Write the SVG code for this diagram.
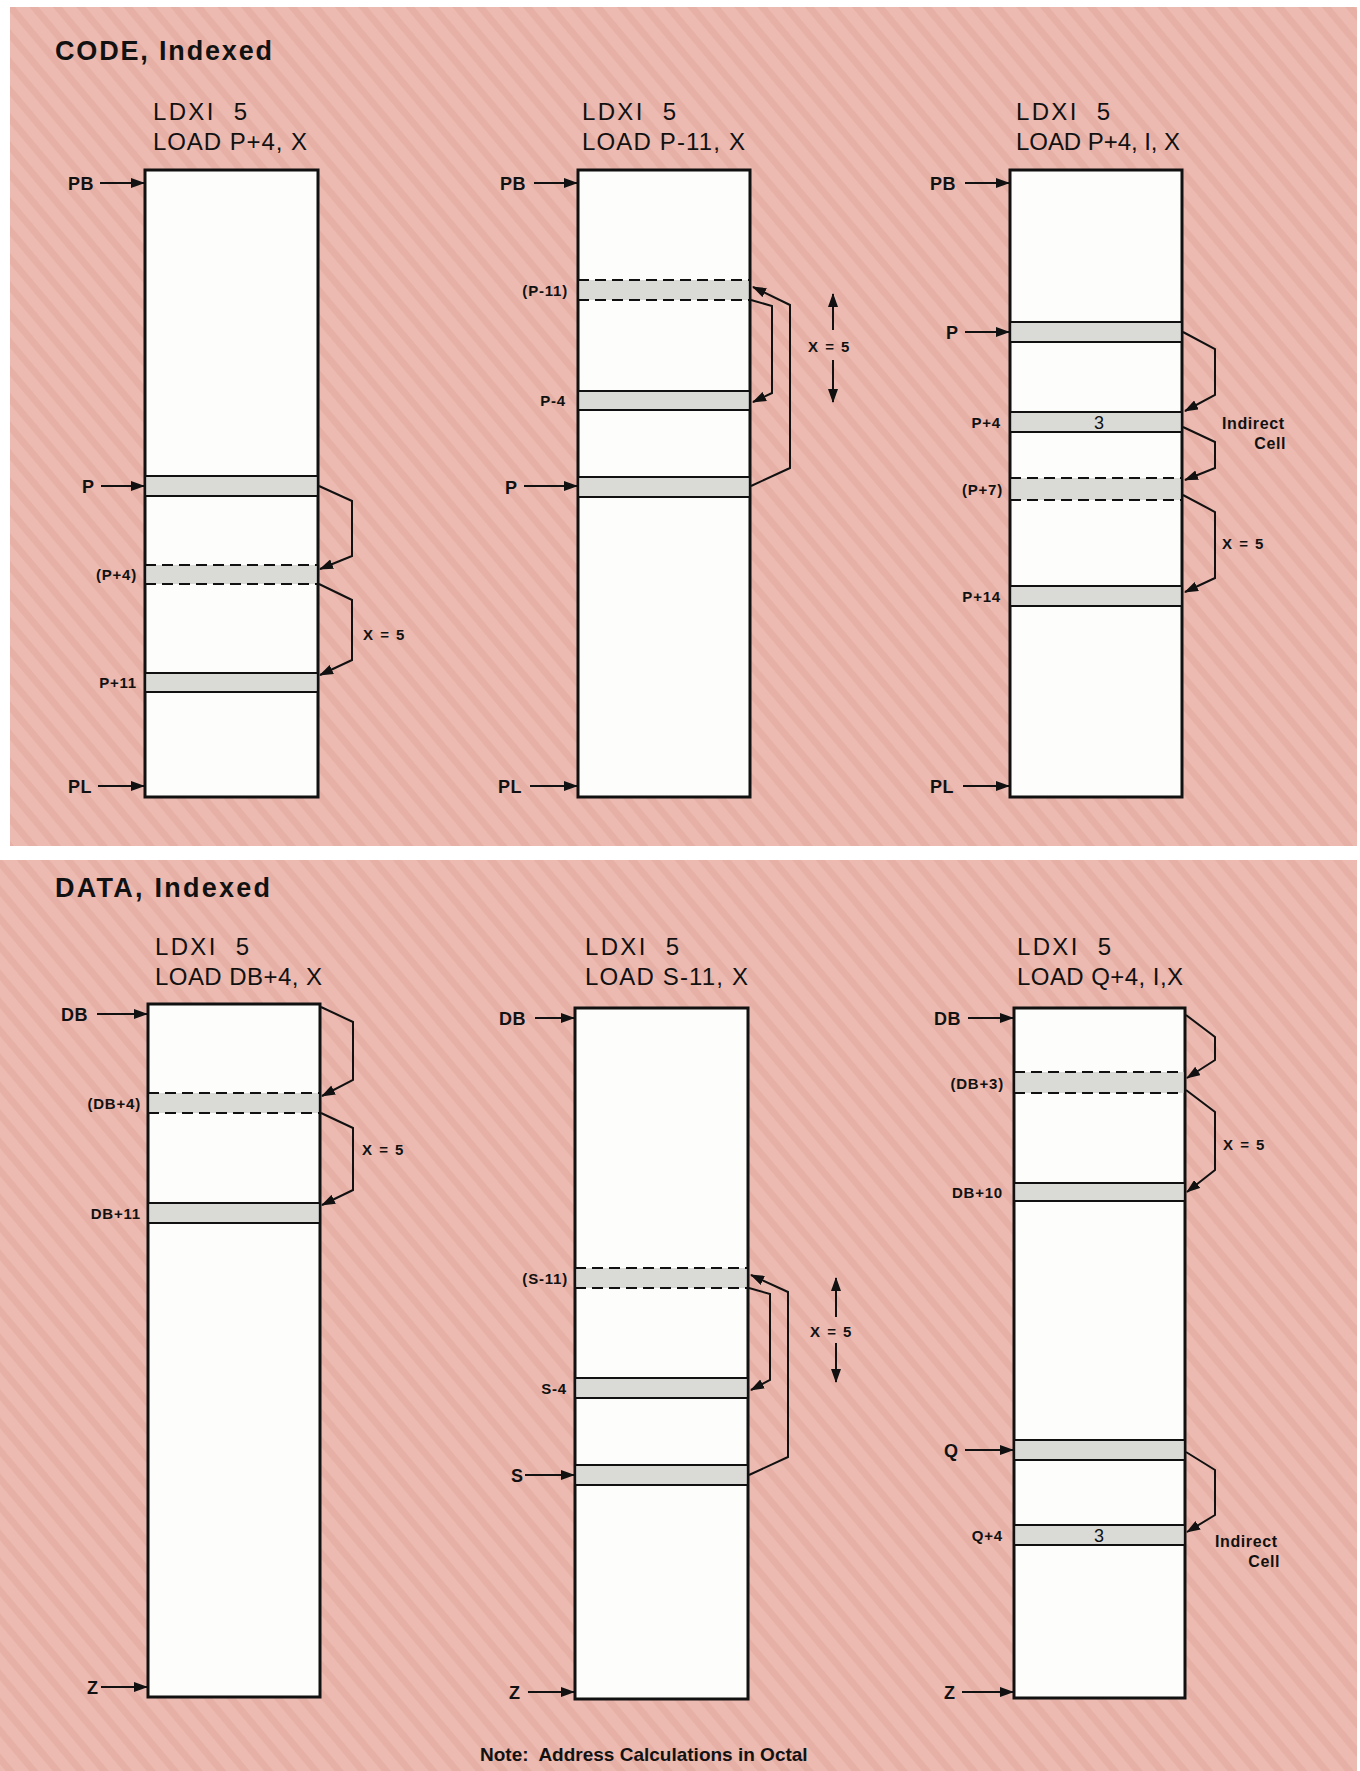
<svg xmlns="http://www.w3.org/2000/svg" width="1360" height="1771" viewBox="0 0 1360 1771">
<defs>
<pattern id="stripes" width="18" height="18" patternUnits="userSpaceOnUse" patternTransform="rotate(-40)">
<rect width="18" height="18" fill="#ecbab0"/>
<rect width="7" height="18" fill="#e6b0a6"/>
</pattern>
<marker id="ah" viewBox="0 0 14 10" refX="13" refY="5" markerWidth="14" markerHeight="10" markerUnits="userSpaceOnUse" orient="auto">
<path d="M0,0 L14,5 L0,10 z" fill="#111"/>
</marker>
<style>
.bg{fill:url(#stripes)}
.col{fill:#fdfdfb;stroke:#111;stroke-width:3}
.cell{fill:#dadad7;stroke:none}
.cl{stroke:#111;stroke-width:2}
.dash{stroke-dasharray:11 6}
.br{fill:none;stroke:#111;stroke-width:2;marker-end:url(#ah)}
.ptr{fill:none;stroke:#111;stroke-width:2;marker-end:url(#ah)}
.title{font-family:"Liberation Sans",Arial,sans-serif;font-weight:bold;font-size:27px;fill:#111}
.ins{font-family:"Liberation Sans",Arial,sans-serif;font-size:24px;fill:#111}
.lb{font-family:"Liberation Sans",Arial,sans-serif;font-weight:bold;font-size:18px;letter-spacing:0.5px;fill:#111}
.sl{font-family:"Liberation Sans",Arial,sans-serif;font-weight:bold;font-size:15px;letter-spacing:0.8px;fill:#111}
.xl{font-family:"Liberation Sans",Arial,sans-serif;font-weight:bold;font-size:15px;letter-spacing:1.5px;fill:#111}
.ic{font-family:"Liberation Sans",Arial,sans-serif;font-weight:bold;font-size:16px;letter-spacing:0.6px;fill:#111}
.num{font-family:"Liberation Sans",Arial,sans-serif;font-size:18px;fill:#111}
.note{font-family:"Liberation Sans",Arial,sans-serif;font-weight:bold;font-size:19px;fill:#111}
</style>
</defs>
<rect width="1360" height="1771" fill="#ffffff"/>
<rect class="bg" x="10" y="7" width="1347" height="839"/>
<rect class="bg" x="0" y="860" width="1357" height="911"/>

<!-- titles -->
<text class="title" x="55" y="60" textLength="217" lengthAdjust="spacing">CODE, Indexed</text>
<text class="title" x="55" y="897" textLength="215" lengthAdjust="spacing">DATA, Indexed</text>

<!-- ===== TOP COLUMN 1 ===== -->
<g id="code-col1">
<text class="ins" x="153" y="120" textLength="94" lengthAdjust="spacing">LDXI&#160; 5</text>
<text class="ins" x="153" y="150" textLength="154" lengthAdjust="spacing">LOAD P+4, X</text>
<rect class="col" x="145" y="170" width="173" height="627"/>
<rect class="cell" x="146.5" y="476" width="170" height="20"/>
<line class="cl" x1="145" y1="476" x2="318" y2="476"/><line class="cl" x1="145" y1="496" x2="318" y2="496"/>
<rect class="cell" x="146.5" y="565" width="170" height="19"/>
<line class="cl dash" x1="145" y1="565" x2="318" y2="565"/><line class="cl dash" x1="145" y1="584" x2="318" y2="584"/>
<rect class="cell" x="146.5" y="673" width="170" height="19"/>
<line class="cl" x1="145" y1="673" x2="318" y2="673"/><line class="cl" x1="145" y1="692" x2="318" y2="692"/>
<text class="lb" x="68" y="190">PB</text>
<text class="lb" x="82" y="493">P</text>
<text class="sl" x="137" y="580" text-anchor="end">(P+4)</text>
<text class="sl" x="137" y="688" text-anchor="end">P+11</text>
<text class="lb" x="68" y="793">PL</text>
<text class="xl" x="363" y="640">X = 5</text>
</g>

<!-- ===== TOP COLUMN 2 ===== -->
<g id="code-col2">
<text class="ins" x="582" y="120" textLength="94" lengthAdjust="spacing">LDXI&#160; 5</text>
<text class="ins" x="582" y="150" textLength="163" lengthAdjust="spacing">LOAD P-11, X</text>
<rect class="col" x="578" y="170" width="172" height="627"/>
<rect class="cell" x="579.5" y="280" width="169" height="20"/>
<line class="cl dash" x1="578" y1="280" x2="750" y2="280"/><line class="cl dash" x1="578" y1="300" x2="750" y2="300"/>
<rect class="cell" x="579.5" y="391" width="169" height="19"/>
<line class="cl" x1="578" y1="391" x2="750" y2="391"/><line class="cl" x1="578" y1="410" x2="750" y2="410"/>
<rect class="cell" x="579.5" y="477" width="169" height="20"/>
<line class="cl" x1="578" y1="477" x2="750" y2="477"/><line class="cl" x1="578" y1="497" x2="750" y2="497"/>
<text class="lb" x="500" y="190">PB</text>
<text class="sl" x="568" y="296" text-anchor="end">(P-11)</text>
<text class="sl" x="566" y="406" text-anchor="end">P-4</text>
<text class="lb" x="505" y="494">P</text>
<text class="lb" x="498" y="793">PL</text>
<text class="xl" x="808" y="352">X = 5</text>
</g>

<!-- ===== TOP COLUMN 3 ===== -->
<g id="code-col3">
<text class="ins" x="1016" y="120" textLength="94" lengthAdjust="spacing">LDXI&#160; 5</text>
<text class="ins" x="1016" y="150" textLength="164" lengthAdjust="spacing">LOAD P+4, I, X</text>
<rect class="col" x="1010" y="170" width="172" height="627"/>
<rect class="cell" x="1011.5" y="322" width="169" height="20"/>
<line class="cl" x1="1010" y1="322" x2="1182" y2="322"/><line class="cl" x1="1010" y1="342" x2="1182" y2="342"/>
<rect class="cell" x="1011.5" y="412" width="169" height="20"/>
<line class="cl" x1="1010" y1="412" x2="1182" y2="412"/><line class="cl" x1="1010" y1="432" x2="1182" y2="432"/>
<text class="num" x="1099" y="429" text-anchor="middle">3</text>
<rect class="cell" x="1011.5" y="478" width="169" height="22"/>
<line class="cl dash" x1="1010" y1="478" x2="1182" y2="478"/><line class="cl dash" x1="1010" y1="500" x2="1182" y2="500"/>
<rect class="cell" x="1011.5" y="586" width="169" height="20"/>
<line class="cl" x1="1010" y1="586" x2="1182" y2="586"/><line class="cl" x1="1010" y1="606" x2="1182" y2="606"/>
<text class="lb" x="930" y="190">PB</text>
<text class="lb" x="946" y="339">P</text>
<text class="sl" x="1001" y="428" text-anchor="end">P+4</text>
<text class="sl" x="1003" y="495" text-anchor="end">(P+7)</text>
<text class="sl" x="1001" y="602" text-anchor="end">P+14</text>
<text class="lb" x="930" y="793">PL</text>
<text class="ic" x="1222" y="429">Indirect</text>
<text class="ic" x="1286" y="449" text-anchor="end">Cell</text>
<text class="xl" x="1222" y="549">X = 5</text>
</g>

<!-- ===== BOTTOM COLUMN 1 ===== -->
<g id="data-col1">
<text class="ins" x="155" y="955" textLength="94" lengthAdjust="spacing">LDXI&#160; 5</text>
<text class="ins" x="155" y="985" textLength="167" lengthAdjust="spacing">LOAD DB+4, X</text>
<rect class="col" x="148" y="1004" width="172" height="693"/>
<rect class="cell" x="149.5" y="1093" width="169" height="20"/>
<line class="cl dash" x1="148" y1="1093" x2="320" y2="1093"/><line class="cl dash" x1="148" y1="1113" x2="320" y2="1113"/>
<rect class="cell" x="149.5" y="1203" width="169" height="20"/>
<line class="cl" x1="148" y1="1203" x2="320" y2="1203"/><line class="cl" x1="148" y1="1223" x2="320" y2="1223"/>
<text class="lb" x="61" y="1021">DB</text>
<text class="sl" x="141" y="1109" text-anchor="end">(DB+4)</text>
<text class="sl" x="141" y="1219" text-anchor="end">DB+11</text>
<text class="lb" x="87" y="1694">Z</text>
<text class="xl" x="362" y="1155">X = 5</text>
</g>

<!-- ===== BOTTOM COLUMN 2 ===== -->
<g id="data-col2">
<text class="ins" x="585" y="955" textLength="94" lengthAdjust="spacing">LDXI&#160; 5</text>
<text class="ins" x="585" y="985" textLength="163" lengthAdjust="spacing">LOAD S-11, X</text>
<rect class="col" x="575" y="1008" width="173" height="691"/>
<rect class="cell" x="576.5" y="1268" width="170" height="20"/>
<line class="cl dash" x1="575" y1="1268" x2="748" y2="1268"/><line class="cl dash" x1="575" y1="1288" x2="748" y2="1288"/>
<rect class="cell" x="576.5" y="1378" width="170" height="20"/>
<line class="cl" x1="575" y1="1378" x2="748" y2="1378"/><line class="cl" x1="575" y1="1398" x2="748" y2="1398"/>
<rect class="cell" x="576.5" y="1465" width="170" height="20"/>
<line class="cl" x1="575" y1="1465" x2="748" y2="1465"/><line class="cl" x1="575" y1="1485" x2="748" y2="1485"/>
<text class="lb" x="499" y="1025">DB</text>
<text class="sl" x="568" y="1284" text-anchor="end">(S-11)</text>
<text class="sl" x="567" y="1394" text-anchor="end">S-4</text>
<text class="lb" x="511" y="1482">S</text>
<text class="lb" x="509" y="1699">Z</text>
<text class="xl" x="810" y="1337">X = 5</text>
</g>

<!-- ===== BOTTOM COLUMN 3 ===== -->
<g id="data-col3">
<text class="ins" x="1017" y="955" textLength="94" lengthAdjust="spacing">LDXI&#160; 5</text>
<text class="ins" x="1017" y="985" textLength="166" lengthAdjust="spacing">LOAD Q+4, I,X</text>
<rect class="col" x="1014" y="1008" width="171" height="690"/>
<rect class="cell" x="1015.5" y="1072" width="168" height="21"/>
<line class="cl dash" x1="1014" y1="1072" x2="1185" y2="1072"/><line class="cl dash" x1="1014" y1="1093" x2="1185" y2="1093"/>
<rect class="cell" x="1015.5" y="1183" width="168" height="18"/>
<line class="cl" x1="1014" y1="1183" x2="1185" y2="1183"/><line class="cl" x1="1014" y1="1201" x2="1185" y2="1201"/>
<rect class="cell" x="1015.5" y="1440" width="168" height="20"/>
<line class="cl" x1="1014" y1="1440" x2="1185" y2="1440"/><line class="cl" x1="1014" y1="1460" x2="1185" y2="1460"/>
<rect class="cell" x="1015.5" y="1525" width="168" height="20"/>
<line class="cl" x1="1014" y1="1525" x2="1185" y2="1525"/><line class="cl" x1="1014" y1="1545" x2="1185" y2="1545"/>
<text class="num" x="1099" y="1542" text-anchor="middle">3</text>
<text class="lb" x="934" y="1025">DB</text>
<text class="sl" x="1004" y="1089" text-anchor="end">(DB+3)</text>
<text class="sl" x="1003" y="1198" text-anchor="end">DB+10</text>
<text class="lb" x="944" y="1457">Q</text>
<text class="sl" x="1003" y="1541" text-anchor="end">Q+4</text>
<text class="lb" x="944" y="1699">Z</text>
<text class="xl" x="1223" y="1150">X = 5</text>
<text class="ic" x="1215" y="1547">Indirect</text>
<text class="ic" x="1280" y="1567" text-anchor="end">Cell</text>
</g>

<!-- ===== CONNECTORS ===== -->
<g id="connectors">
<!-- top col1 -->
<line class="ptr" x1="100" y1="183" x2="144" y2="183"/>
<line class="ptr" x1="101" y1="486" x2="144" y2="486"/>
<line class="ptr" x1="98" y1="786" x2="144" y2="786"/>
<polyline class="br" points="319,486 352,501 352,556 320,569"/>
<polyline class="br" points="319,584 352,600 352,660 320,675"/>
<!-- top col2 -->
<line class="ptr" x1="534" y1="183" x2="577" y2="183"/>
<line class="ptr" x1="524" y1="486" x2="577" y2="486"/>
<line class="ptr" x1="530" y1="786" x2="577" y2="786"/>
<polyline class="br" points="751,486 790,468 790,305 753,287"/>
<polyline class="br" points="751,300 772,306 772,393 753,402"/>
<line class="ptr" x1="833" y1="330" x2="833" y2="294"/>
<line class="ptr" x1="833" y1="360" x2="833" y2="402"/>
<!-- top col3 -->
<line class="ptr" x1="965" y1="183" x2="1009" y2="183"/>
<line class="ptr" x1="965" y1="332" x2="1009" y2="332"/>
<line class="ptr" x1="963" y1="786" x2="1009" y2="786"/>
<polyline class="br" points="1183,332 1215,349 1215,395 1185,411"/>
<polyline class="br" points="1183,427 1215,442 1215,468 1185,480"/>
<polyline class="br" points="1183,495 1215,512 1215,578 1185,592"/>
<!-- bottom col1 -->
<line class="ptr" x1="97" y1="1014" x2="147" y2="1014"/>
<line class="ptr" x1="101" y1="1687" x2="147" y2="1687"/>
<polyline class="br" points="321,1007 353,1022 353,1080 322,1096"/>
<polyline class="br" points="321,1113 353,1128 353,1190 322,1205"/>
<!-- bottom col2 -->
<line class="ptr" x1="535" y1="1018" x2="574" y2="1018"/>
<line class="ptr" x1="525" y1="1475" x2="574" y2="1475"/>
<line class="ptr" x1="528" y1="1692" x2="574" y2="1692"/>
<polyline class="br" points="749,1475 788,1457 788,1292 751,1275"/>
<polyline class="br" points="749,1288 770,1294 770,1380 751,1390"/>
<line class="ptr" x1="836" y1="1317" x2="836" y2="1278"/>
<line class="ptr" x1="836" y1="1343" x2="836" y2="1382"/>
<!-- bottom col3 -->
<line class="ptr" x1="968" y1="1018" x2="1013" y2="1018"/>
<line class="ptr" x1="965" y1="1450" x2="1013" y2="1450"/>
<line class="ptr" x1="962" y1="1692" x2="1013" y2="1692"/>
<polyline class="br" points="1186,1015 1215,1037 1215,1060 1187,1078"/>
<polyline class="br" points="1186,1090 1215,1112 1215,1170 1187,1192"/>
<polyline class="br" points="1186,1452 1215,1470 1215,1515 1187,1532"/>
</g>

<text class="note" x="480" y="1761" xml:space="preserve">Note:  Address Calculations in Octal</text>
</svg>
